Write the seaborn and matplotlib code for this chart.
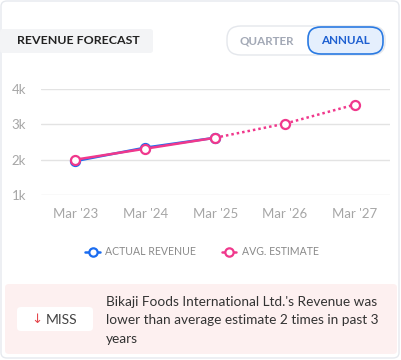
import matplotlib.pyplot as plt
import numpy as np
import pandas as pd
import seaborn as sns
from matplotlib.patches import FancyBboxPatch
from matplotlib.lines import Line2D

PERIODS = ["Mar '23", "Mar '24", "Mar '25", "Mar '26", "Mar '27"]
ACTUAL = [1960, 2340, 2620]
ESTIMATE = [2000, 2310, 2620, 3020, 3560]
Y_TICKS = [1000, 2000, 3000, 4000]
Y_LABELS = ['1k', '2k', '3k', '4k']

BLUE = '#1a6cf0'
PINK = '#f0388c'
W, H = 402, 360


def fx(px):
    return px / W


def fy(py):
    return 1 - py / H


def box(fig, x0, y0, x1, y1, color, edge='none', r=4, lw=1.0):
    p = FancyBboxPatch(
        (fx(x0), fy(y1)), fx(x1 - x0), (y1 - y0) / H,
        boxstyle=f'round,pad=0,rounding_size={r / W}',
        transform=fig.transFigure, facecolor=color, edgecolor=edge,
        linewidth=lw, zorder=-1
    )
    fig.patches.append(p)


def main():
    sns.set_style('white')
    plt.rcParams['font.family'] = ['Lato', 'DejaVu Sans']

    fig = plt.figure(figsize=(4.02, 3.60), dpi=100)
    fig.patch.set_facecolor('white')

    # card border
    box(fig, 1, 1, 399, 358, 'white', edge='#e6e9ee', r=6)

    # header
    box(fig, 0, 29, 153, 53, '#f3f4f6', r=3)
    fig.text(fx(17), fy(41), 'REVENUE FORECAST', fontsize=8.9,
             fontweight='bold', color='#222222', va='center')
    box(fig, 227, 26, 385, 55, 'white', edge='#e4e7ec', r=14)
    box(fig, 308, 27, 383, 54, '#e5effd', edge='#2a7ae2', r=13, lw=1.2)
    fig.text(fx(267), fy(41), 'QUARTER', fontsize=8.4, fontweight='bold',
             color='#a3a9b6', va='center', ha='center')
    fig.text(fx(345), fy(41), 'ANNUAL', fontsize=8.4, fontweight='bold',
             color='#1d5fd1', va='center', ha='center')

    ax = fig.add_axes([fx(41), fy(195), fx(390 - 41), (195 - 89) / H])
    ax.set_facecolor('none')
    ax.set_zorder(2)

    df = pd.DataFrame({'idx': np.arange(len(PERIODS)), 'est': ESTIMATE})
    df_act = pd.DataFrame({'idx': np.arange(len(ACTUAL)), 'act': ACTUAL})
    n_act = len(ACTUAL)

    mk = dict(marker='o', markersize=6.5, markerfacecolor='white',
              markeredgewidth=1.6, clip_on=False)
    sns.lineplot(data=df_act, x='idx', y='act', color=BLUE, linewidth=1.8,
                 markeredgecolor=BLUE, ax=ax, zorder=3, **mk)
    sns.lineplot(data=df.iloc[:n_act], x='idx', y='est', color=PINK,
                 linewidth=1.8, ax=ax, zorder=4, clip_on=False)
    sns.lineplot(data=df.iloc[n_act - 1:], x='idx', y='est', color=PINK,
                 linewidth=1.8, linestyle=(0, (1, 1.2)), ax=ax, zorder=4,
                 clip_on=False)
    sns.lineplot(data=df, x='idx', y='est', color=PINK, linewidth=0,
                 markeredgecolor=PINK, ax=ax, zorder=5, **mk)

    ax.set_xlim(-0.49, 4.5)
    ax.set_ylim(1000, 4000)
    ax.set_yticks(Y_TICKS)
    ax.set_yticklabels(Y_LABELS)
    ax.set_xticks(np.arange(len(PERIODS)))
    ax.set_xticklabels(PERIODS)
    ax.grid(axis='y', color='#e3e3e3', linewidth=1)
    ax.grid(axis='x', visible=False)
    for s in ax.spines.values():
        s.set_visible(False)
    ax.tick_params(axis='both', length=0, labelsize=9.5, colors='#a6a6a6')
    for t in ax.get_yticklabels():
        t.set_horizontalalignment('left')
    ax.tick_params(axis='y', pad=21)
    ax.tick_params(axis='x', pad=9)
    ax.set_xlabel('')
    ax.set_ylabel('')
    if ax.get_legend():
        ax.get_legend().remove()

    # legend
    handles = [
        Line2D([], [], color=BLUE, marker='o', markerfacecolor='white',
               markeredgecolor=BLUE, markersize=6, markeredgewidth=1.6,
               linewidth=1.8),
        Line2D([], [], color=PINK, marker='o', markerfacecolor='white',
               markeredgecolor=PINK, markersize=6, markeredgewidth=1.6,
               linewidth=1.8),
    ]
    fig.legend(handles, ['ACTUAL REVENUE', 'AVG. ESTIMATE'], ncol=2,
               loc='center', bbox_to_anchor=(fx(202), fy(252)),
               frameon=False, fontsize=7.6, labelcolor='#8a8a8a',
               handlelength=1.4, handletextpad=0.5, columnspacing=2.4)

    # bottom note
    box(fig, 5, 284, 397, 354, '#fdf0f0', r=4)
    box(fig, 17, 307, 93, 331, 'white', r=4)
    fig.text(fx(37), fy(319.5), '↓', fontsize=9.5, color='#e5484d',
             va='center', ha='center', family=['DejaVu Sans'])
    fig.text(fx(46), fy(319.5), 'MISS', fontsize=10, color='#444444',
             va='center')
    fig.text(fx(106), fy(302),
             "Bikaji Foods International Ltd.'s Revenue was", fontsize=9.8,
             color='#333333', va='center')
    fig.text(fx(106), fy(320),
             'lower than average estimate 2 times in past 3', fontsize=9.8,
             color='#333333', va='center')
    fig.text(fx(106), fy(339), 'years', fontsize=9.8,
             color='#333333', va='center')

    fig.savefig('out.png', dpi=100)


if __name__ == '__main__':
    main()
